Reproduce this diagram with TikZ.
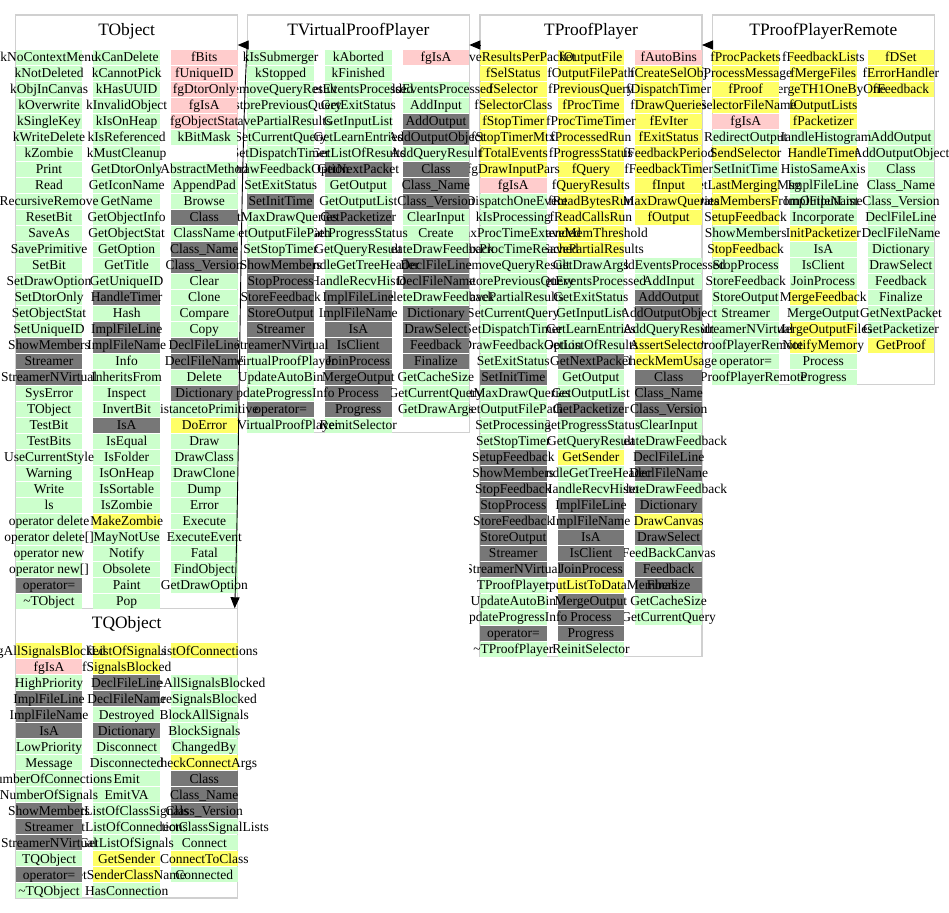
\documentclass[tikz,border=0pt]{standalone}
\usepackage{fontspec}
\setmainfont{Liberation Serif}
\usetikzlibrary{arrows.meta,backgrounds}

\definecolor{pubgreen}{RGB}{204,255,204}
\definecolor{protyellow}{RGB}{255,255,102}
\definecolor{privpink}{RGB}{255,204,204}
\definecolor{ovrgray}{RGB}{119,119,119}
\definecolor{framegray}{RGB}{208,208,208}

% one column of member cells: x, y of row 1, name, first row, left clip, list
\newcommand\cellcol[6]{%
  \begin{pgfonlayer}{background}
    \foreach \txt/\kind [count=\r from #4] in {#6}{%
      \node[\kind] (#3-\r) at (#1,#2+16*\r-16) {};
    }%
  \end{pgfonlayer}
  \begin{scope}
    \clip (#5,0) rectangle (949,912);
    \foreach \txt/\kind [count=\r from #4] in {#6}{%
      \node[celltext] (#3-\r-t) at (#3-\r) {\makebox[0pt]{\txt}};
    }%
  \end{scope}%
}

\begin{document}
\begin{tikzpicture}[x=1pt,y=-1pt,
    classframe/.style={draw=framegray,line width=1.5pt,anchor=north west,
      inner sep=0pt,outer sep=0pt,minimum width=222pt},
    classtitle/.style={anchor=base,inner sep=0pt,font=\fontsize{17.4}{20}\selectfont},
    cell/.style={inner sep=0pt,minimum width=66.7pt,minimum height=14.6pt},
    pub/.style={cell,fill=pubgreen},
    prot/.style={cell,fill=protyellow},
    priv/.style={cell,fill=privpink},
    ovr/.style={cell,fill=ovrgray},
    celltext/.style={inner sep=0pt,text height=10.8pt,text depth=2pt,
      font=\fontsize{13.5}{15}\selectfont},
    inherit/.style={-{Triangle[length=11pt,width=9pt]},line width=0.9pt}]

  \useasboundingbox (0,0) rectangle (949,912);

  % class frames
  \begin{pgfonlayer}{background}
    \node[classframe,minimum height=593.5pt] (tobj)  at (15.7,15)    {};
    \node[classframe,minimum height=417.6pt] (tvpp)  at (247.3,15)   {};
    \node[classframe,minimum height=641.6pt] (tpp)   at (480,15)     {};
    \node[classframe,minimum height=369.6pt] (tppr)  at (712.3,15)   {};
    \node[classframe,minimum height=289.6pt] (tqobj) at (15.7,608.3) {};
  \end{pgfonlayer}

  \node[classtitle] (tobj-title)  at (126.7,36)    {TObject};
  \node[classtitle] (tvpp-title)  at (358.3,36)    {TVirtualProofPlayer};
  \node[classtitle] (tpp-title)   at (591,36)      {TProofPlayer};
  \node[classtitle] (tppr-title)  at (823.3,36)    {TProofPlayerRemote};
  \node[classtitle] (tqobj-title) at (126.7,628.5) {TQObject};

  % TObject
  \cellcol{49.05}{57.3}{obj-a}{1}{0}{kNoContextMenu/pub, kNotDeleted/pub, kObjInCanvas/pub,
    kOverwrite/pub, kSingleKey/pub, kWriteDelete/pub, kZombie/pub, Print/pub, Read/pub,
    RecursiveRemove/pub, ResetBit/pub, SaveAs/pub, SavePrimitive/pub, SetBit/pub,
    SetDrawOption/pub, SetDtorOnly/pub, SetObjectStat/pub, SetUniqueID/pub, ShowMembers/ovr,
    Streamer/ovr, StreamerNVirtual/ovr, SysError/pub, TObject/pub, TestBit/pub, TestBits/pub,
    UseCurrentStyle/pub, Warning/pub, Write/pub, ls/pub, operator delete/pub,
    operator delete[]/pub, operator new/pub, operator new[]/pub, operator=/ovr,
    \textasciitilde TObject/pub}
  \cellcol{126.65}{57.3}{obj-b}{1}{82.4}{kCanDelete/pub, kCannotPick/pub, kHasUUID/pub,
    kInvalidObject/pub, kIsOnHeap/pub, kIsReferenced/pub, kMustCleanup/pub, GetDtorOnly/pub,
    GetIconName/pub, GetName/pub, GetObjectInfo/pub, GetObjectStat/pub, GetOption/pub,
    GetTitle/pub, GetUniqueID/pub, HandleTimer/ovr, Hash/pub, ImplFileLine/ovr,
    ImplFileName/ovr, Info/pub, InheritsFrom/pub, Inspect/pub, InvertBit/pub, IsA/ovr,
    IsEqual/pub, IsFolder/pub, IsOnHeap/pub, IsSortable/pub, IsZombie/pub, MakeZombie/prot,
    MayNotUse/pub, Notify/pub, Obsolete/pub, Paint/pub, Pop/pub}
  \cellcol{204.35}{57.3}{obj-c}{1}{160}{fBits/priv, fUniqueID/priv, fgDtorOnly/priv,
    fgIsA/priv, fgObjectStat/priv, kBitMask/pub}
  \cellcol{204.35}{57.3}{obj-c}{8}{160}{AbstractMethod/pub, AppendPad/pub, Browse/pub,
    Class/ovr, ClassName/pub, Class\_Name/ovr, Class\_Version/ovr, Clear/pub, Clone/pub,
    Compare/pub, Copy/pub, DeclFileLine/ovr, DeclFileName/ovr, Delete/pub, Dictionary/ovr,
    DistancetoPrimitive/pub, DoError/prot, Draw/pub, DrawClass/pub, DrawClone/pub, Dump/pub,
    Error/pub, Execute/pub, ExecuteEvent/pub, Fatal/pub, FindObject/pub, GetDrawOption/pub}

  % TQObject
  \cellcol{49.05}{650.6}{qobj-a}{1}{0}{fgAllSignalsBlocked/prot, fgIsA/priv,
    HighPriority/pub, ImplFileLine/ovr, ImplFileName/ovr, IsA/ovr, LowPriority/pub,
    Message/pub, NumberOfConnections/pub, NumberOfSignals/pub, ShowMembers/ovr, Streamer/ovr,
    StreamerNVirtual/ovr, TQObject/pub, operator=/ovr, \textasciitilde TQObject/pub}
  \cellcol{126.65}{650.6}{qobj-b}{1}{82.4}{fListOfSignals/prot, fSignalsBlocked/prot,
    DeclFileLine/ovr, DeclFileName/ovr, Destroyed/pub, Dictionary/ovr, Disconnect/pub,
    Disconnected/pub, Emit/pub, EmitVA/pub, GetListOfClassSignals/pub,
    GetListOfConnections/pub, GetListOfSignals/pub, GetSender/prot,
    GetSenderClassName/prot, HasConnection/pub}
  \cellcol{204.35}{650.6}{qobj-c}{1}{160}{fListOfConnections/prot}
  \cellcol{204.35}{650.6}{qobj-c}{3}{160}{AreAllSignalsBlocked/pub, AreSignalsBlocked/pub,
    BlockAllSignals/pub, BlockSignals/pub, ChangedBy/pub, CheckConnectArgs/prot, Class/ovr,
    Class\_Name/ovr, Class\_Version/ovr, CollectClassSignalLists/pub, Connect/pub,
    ConnectToClass/prot, Connected/pub}

  % TVirtualProofPlayer
  \cellcol{280.65}{57.3}{vpp-a}{1}{237}{kIsSubmerger/pub, kStopped/pub,
    RemoveQueryResult/pub, RestorePreviousQuery/pub, SavePartialResults/pub,
    SetCurrentQuery/pub, SetDispatchTimer/pub, SetDrawFeedbackOption/pub, SetExitStatus/pub,
    SetInitTime/ovr, SetMaxDrawQueries/pub, SetOutputFilePath/pub, SetStopTimer/pub,
    ShowMembers/ovr, StopProcess/ovr, StoreFeedback/ovr, StoreOutput/ovr, Streamer/ovr,
    StreamerNVirtual/ovr, TVirtualProofPlayer/pub, UpdateAutoBin/pub,
    UpdateProgressInfo/pub, operator=/ovr, \textasciitilde TVirtualProofPlayer/pub}
  \cellcol{358.25}{57.3}{vpp-b}{1}{314}{kAborted/pub, kFinished/pub, GetEventsProcessed/pub,
    GetExitStatus/pub, GetInputList/pub, GetLearnEntries/pub, GetListOfResults/pub,
    GetNextPacket/ovr, GetOutput/pub, GetOutputList/pub, GetPacketizer/ovr,
    GetProgressStatus/pub, GetQueryResult/pub, HandleGetTreeHeader/pub, HandleRecvHisto/pub,
    ImplFileLine/ovr, ImplFileName/ovr, IsA/ovr, IsClient/ovr, JoinProcess/ovr,
    MergeOutput/ovr, Process/ovr, Progress/ovr, ReinitSelector/pub}
  \cellcol{435.95}{57.3}{vpp-c}{1}{391.6}{fgIsA/priv}
  \cellcol{435.95}{57.3}{vpp-c}{3}{391.6}{AddEventsProcessed/pub, AddInput/pub,
    AddOutput/ovr, AddOutputObject/ovr, AddQueryResult/pub, Class/ovr, Class\_Name/ovr,
    Class\_Version/ovr, ClearInput/pub, Create/pub, CreateDrawFeedback/pub, DeclFileLine/ovr,
    DeclFileName/ovr, DeleteDrawFeedback/pub, Dictionary/ovr, DrawSelect/ovr, Feedback/ovr,
    Finalize/ovr, GetCacheSize/pub, GetCurrentQuery/pub, GetDrawArgs/pub}

  % TProofPlayer
  \cellcol{513.35}{57.3}{pp-a}{1}{469.3}{fSaveResultsPerPacket/prot, fSelStatus/prot,
    fSelector/prot, fSelectorClass/prot, fStopTimer/prot, fStopTimerMtx/prot,
    fTotalEvents/prot, fgDrawInputPars/prot, fgIsA/priv, kDispatchOneEvent/pub,
    kIsProcessing/pub, kMaxProcTimeExtended/pub, kMaxProcTimeReached/pub,
    RemoveQueryResult/pub, RestorePreviousQuery/pub, SavePartialResults/pub,
    SetCurrentQuery/pub, SetDispatchTimer/pub, SetDrawFeedbackOption/pub, SetExitStatus/pub,
    SetInitTime/ovr, SetMaxDrawQueries/pub, SetOutputFilePath/pub, SetProcessing/pub,
    SetStopTimer/pub, SetupFeedback/ovr, ShowMembers/ovr, StopFeedback/ovr, StopProcess/ovr,
    StoreFeedback/ovr, StoreOutput/ovr, Streamer/ovr, StreamerNVirtual/ovr,
    TProofPlayer/pub, UpdateAutoBin/pub, UpdateProgressInfo/pub, operator=/ovr,
    \textasciitilde TProofPlayer/pub}
  \cellcol{590.95}{57.3}{pp-b}{1}{546.7}{fOutputFile/prot, fOutputFilePath/prot,
    fPreviousQuery/prot, fProcTime/prot, fProcTimeTimer/prot, fProcessedRun/prot,
    fProgressStatus/prot, fQuery/prot, fQueryResults/prot, fReadBytesRun/prot,
    fReadCallsRun/prot, fSaveMemThreshold/prot, fSavePartialResults/prot, GetDrawArgs/pub,
    GetEventsProcessed/pub, GetExitStatus/pub, GetInputList/pub, GetLearnEntries/pub,
    GetListOfResults/pub, GetNextPacket/ovr, GetOutput/pub, GetOutputList/pub,
    GetPacketizer/ovr, GetProgressStatus/pub, GetQueryResult/pub, GetSender/prot,
    HandleGetTreeHeader/pub, HandleRecvHisto/pub, ImplFileLine/ovr, ImplFileName/ovr,
    IsA/ovr, IsClient/ovr, JoinProcess/ovr, MapOutputListToDataMembers/prot,
    MergeOutput/ovr, Process/ovr, Progress/ovr, ReinitSelector/pub}
  \cellcol{668.65}{57.3}{pp-c}{1}{624.3}{fAutoBins/priv, fCreateSelObj/prot,
    fDispatchTimer/prot, fDrawQueries/prot, fEvIter/prot, fExitStatus/prot,
    fFeedbackPeriod/prot, fFeedbackTimer/prot, fInput/prot, fMaxDrawQueries/prot,
    fOutput/prot}
  \cellcol{668.65}{57.3}{pp-c}{14}{624.3}{AddEventsProcessed/pub, AddInput/pub,
    AddOutput/ovr, AddOutputObject/ovr, AddQueryResult/pub, AssertSelector/prot,
    CheckMemUsage/prot, Class/ovr, Class\_Name/ovr, Class\_Version/ovr, ClearInput/pub,
    CreateDrawFeedback/pub, DeclFileLine/ovr, DeclFileName/ovr, DeleteDrawFeedback/pub,
    Dictionary/ovr, DrawCanvas/prot, DrawSelect/ovr, FeedBackCanvas/pub, Feedback/ovr,
    Finalize/ovr, GetCacheSize/pub, GetCurrentQuery/pub}

  % TProofPlayerRemote
  \cellcol{745.65}{57.3}{ppr-a}{1}{702.5}{fProcPackets/prot, fProcessMessage/prot,
    fProof/prot, fSelectorFileName/prot, fgIsA/priv, RedirectOutput/pub, SendSelector/prot,
    SetInitTime/pub, SetLastMergingMsg/prot, SetSelectorDataMembersFromOutputList/prot,
    SetupFeedback/prot, ShowMembers/pub, StopFeedback/prot, StopProcess/pub,
    StoreFeedback/pub, StoreOutput/pub, Streamer/pub, StreamerNVirtual/pub,
    TProofPlayerRemote/pub, operator=/pub, \textasciitilde TProofPlayerRemote/pub}
  \cellcol{823.25}{57.3}{ppr-b}{1}{779}{fFeedbackLists/prot, fMergeFiles/prot,
    fMergeTH1OneByOne/prot, fOutputLists/prot, fPacketizer/prot, HandleHistogram/pub,
    HandleTimer/prot, HistoSameAxis/pub, ImplFileLine/pub, ImplFileName/pub,
    Incorporate/pub, InitPacketizer/prot, IsA/pub, IsClient/pub, JoinProcess/pub,
    MergeFeedback/prot, MergeOutput/pub, MergeOutputFiles/prot, NotifyMemory/prot,
    Process/pub, Progress/pub}
  \cellcol{900.95}{57.3}{ppr-c}{1}{856.6}{fDSet/prot, fErrorHandler/prot, fFeedback/prot}
  \cellcol{900.95}{57.3}{ppr-c}{6}{856.6}{AddOutput/pub, AddOutputObject/pub, Class/pub,
    Class\_Name/pub, Class\_Version/pub, DeclFileLine/pub, DeclFileName/pub, Dictionary/pub,
    DrawSelect/pub, Feedback/pub, Finalize/pub, GetNextPacket/pub, GetPacketizer/pub,
    GetProof/prot}

  % inheritance
  \coordinate (tvpp-in) at ([yshift=-30pt]tvpp.north west);
  \coordinate (tpp-in)  at ([yshift=-30pt]tpp.north west);
  \coordinate (tppr-in) at ([yshift=-30pt]tppr.north west);
  \draw[inherit] (tvpp-in) -- (tvpp-in -| tobj.east);
  \draw[inherit] (tvpp-in) .. controls +(-7,105) and +(5,-150) .. ([xshift=-3pt]tqobj.north east);
  \draw[inherit] (tpp-in) -- (tpp-in -| tvpp.east);
  \draw[inherit] (tppr-in) -- (tppr-in -| tpp.east);

\end{tikzpicture}
\end{document}
